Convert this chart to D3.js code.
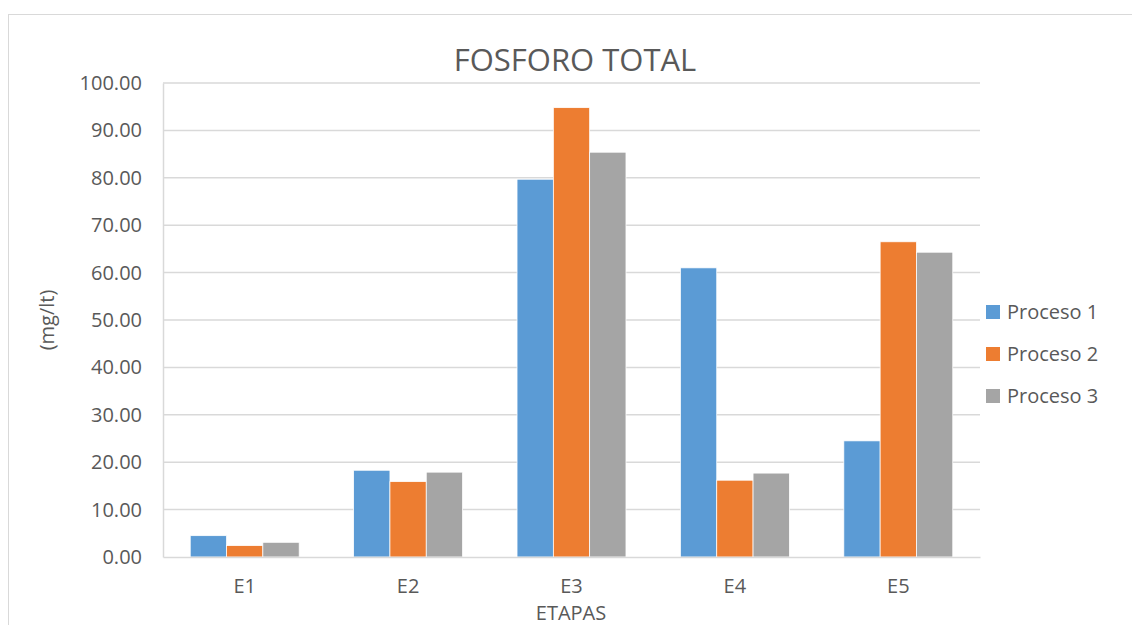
<!DOCTYPE html>
<html><head><meta charset="utf-8">
<script src="https://cdn.jsdelivr.net/npm/d3@7"></script>
<style>body{margin:0;background:#fff}text{font-family:"Open Sans",sans-serif}</style>
</head><body>
<svg id="c" width="1132" height="625"></svg>
<script>
const categories = ["E1","E2","E3","E4","E5"];
const seriesNames = ["Proceso 1","Proceso 2","Proceso 3"];
const proceso1 = [4.5, 18.3, 79.7, 61.0, 24.5];
const proceso2 = [2.4, 15.9, 94.8, 16.2, 66.5];
const proceso3 = [3.1, 17.9, 85.4, 17.7, 64.3];
const colors = ["#5b9bd5","#ed7d31","#a5a5a5"];
const yTicks = [0,10,20,30,40,50,60,70,80,90,100];
const title = "FOSFORO TOTAL", xTitle = "ETAPAS", yTitle = "(mg/lt)";

const series = [proceso1, proceso2, proceso3];
const svg = d3.select("#c");
const m = {l:163, r:980, t:83, b:557};
const txt = "#595959";

svg.append("rect").attr("x",8.5).attr("y",14.5).attr("width",1140).attr("height",640)
  .attr("fill","none").attr("stroke","#d9d9d9").attr("stroke-width",1);

const x = d3.scaleBand().domain(categories).range([m.l,m.r]).paddingInner(1/3).paddingOuter(1/6);
const xs = d3.scaleBand().domain(seriesNames).range([0,x.bandwidth()]);
const y = d3.scaleLinear().domain([0,100]).range([m.b,m.t]);

// gridlines
svg.append("g").selectAll("line").data(yTicks.filter(d=>d>0)).join("line")
  .attr("x1",m.l).attr("x2",m.r).attr("y1",d=>y(d)).attr("y2",d=>y(d))
  .attr("stroke","#d9d9d9").attr("stroke-width",1.5);

// y axis
const ya = svg.append("g").attr("transform",`translate(${m.l},0)`)
  .call(d3.axisLeft(y).tickValues(yTicks).tickFormat(d3.format(".2f")).tickSize(0).tickPadding(21));
ya.select(".domain").attr("stroke","#d9d9d9").attr("stroke-width",1.5);
ya.selectAll("text").attr("fill",txt).attr("font-size",20).attr("font-family","Open Sans");

// bars
categories.forEach((c,i)=>{
  svg.append("g").selectAll("rect").data(series.map((s,j)=>({n:seriesNames[j],v:s[i],c:colors[j]}))).join("rect")
    .attr("x",d=>x(c)+xs(d.n)).attr("width",xs.bandwidth())
    .attr("y",d=>y(d.v)).attr("height",d=>y(0)-y(d.v))
    .attr("fill",d=>d.c).attr("stroke","#fff").attr("stroke-width",0.75);
});

// x axis
const xa = svg.append("g").attr("transform",`translate(0,${m.b})`)
  .call(d3.axisBottom(x).tickSize(0).tickPadding(22));
xa.select(".domain").attr("stroke","#d9d9d9").attr("stroke-width",1.5);
xa.selectAll("text").attr("fill",txt).attr("font-size",20).attr("font-family","Open Sans");

// titles
svg.append("text").attr("x",575).attr("y",71).attr("text-anchor","middle")
  .attr("font-size",31).attr("fill",txt).text(title);
svg.append("text").attr("x",571).attr("y",620).attr("text-anchor","middle")
  .attr("font-size",20).attr("fill",txt).text(xTitle);
svg.append("text").attr("transform","translate(54,320) rotate(-90)").attr("text-anchor","middle")
  .attr("font-size",20).attr("fill",txt).text(yTitle);

// legend
const lg = svg.append("g").selectAll("g").data(seriesNames).join("g")
  .attr("transform",(d,i)=>`translate(986,${312+i*42})`);
lg.append("rect").attr("x",0).attr("y",-7).attr("width",14).attr("height",14).attr("fill",(d,i)=>colors[i]);
lg.append("text").attr("x",21).attr("y",7).attr("font-size",20).attr("fill",txt).text(d=>d);
</script>
</body></html>
